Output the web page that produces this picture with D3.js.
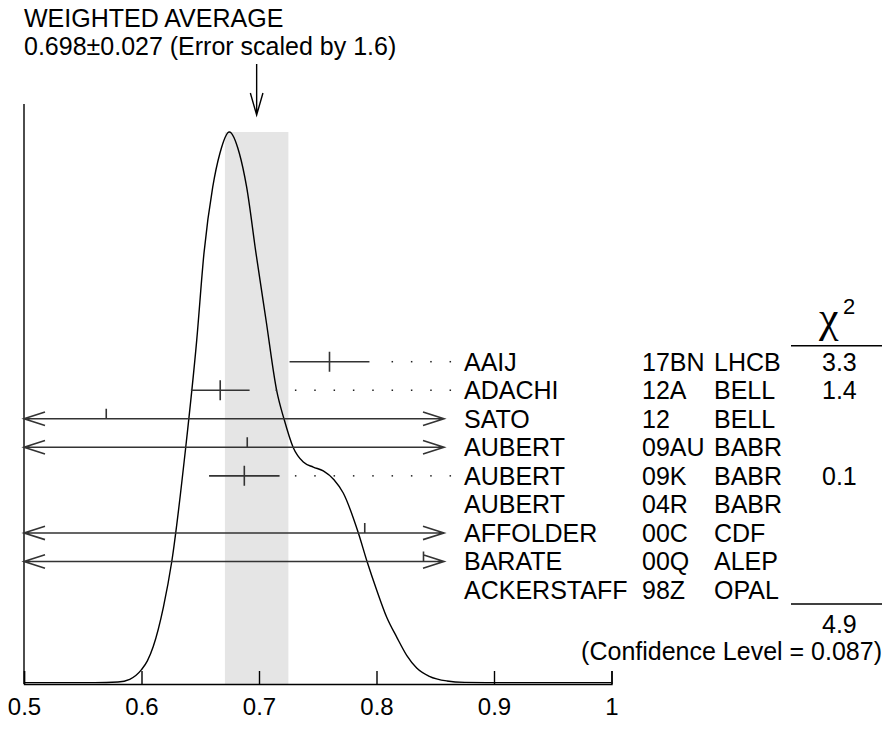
<!DOCTYPE html>
<html>
<head>
<meta charset="utf-8">
<script src="https://cdn.jsdelivr.net/npm/d3@7"></script>
<style>
  body { margin: 0; background: #fff; }
  svg text { font-family: "Liberation Sans", Arial, Helvetica, sans-serif; font-size: 25px; fill: #000; }
</style>
</head>
<body>
<svg id="chart" width="883" height="729"></svg>
<script>
'use strict';

const authors = ["AAIJ", "ADACHI", "SATO", "AUBERT", "AUBERT", "AUBERT", "AFFOLDER", "BARATE", "ACKERSTAFF"];
const refs = ["17BN", "12A", "12", "09AU", "09K", "04R", "00C", "00Q", "98Z"];
const experiments = ["LHCB", "BELL", "BELL", "BABR", "BABR", "BABR", "CDF", "ALEP", "OPAL"];
const values = [0.760, 0.667, 0.570, 0.690, 0.6875, null, 0.790, 0.840, null];
const errors = [0.034, 0.025, 0.30, 0.25, 0.030, null, 0.40, 0.45, null];
const chi2 = ["3.3", "1.4", "", "", "0.1", "", "", "", ""];
const chi2Total = "4.9";
const confidence = "(Confidence Level = 0.087)";

// weighted average
const average = 0.698;
const averageError = 0.027;
const titleLines = ["WEIGHTED AVERAGE", "0.698\u00b10.027 (Error scaled by 1.6)"];

// ideogram curve, relative height (peak = 100)
const curveX = [0.500, 0.560, 0.580, 0.590, 0.600, 0.605, 0.610, 0.6186, 0.6257, 0.6376, 0.6470, 0.6532,
  0.6606, 0.6668, 0.6747, 0.6832, 0.6895, 0.6974, 0.7060, 0.7151, 0.7213, 0.7292, 0.7377, 0.7462,
  0.7547, 0.7638, 0.7717, 0.7845, 0.7921, 0.8002, 0.8087, 0.8172, 0.8257, 0.8342, 0.8450, 0.8600,
  0.8750, 0.9000, 1.000];
const curveY = [0.25, 0.25, 0.35, 0.85, 2.6, 4.2, 6.8, 13.9, 22.1, 42.8, 62.3, 78.1,
  90.0, 96.2, 100, 96.2, 90.0, 78.1, 65.9, 53.1, 48.0, 42.8, 40.2, 39.3,
  38.6, 37.0, 34.6, 27.4, 22.1, 17.0, 12.1, 8.5, 5.2, 2.9, 1.4, 0.55,
  0.3, 0.25, 0.25];

const xTicks = [0.5, 0.6, 0.7, 0.8, 0.9, 1];

const svg = d3.select('#chart');
const axisY = 684;
const arrowEnd = 444;

const x = d3.scaleLinear().domain([0.5, 1]).range([24, 611.5]);
const y = d3.scaleLinear().domain([0, 100]).range([axisY, 132]);
const row = d3.scaleLinear().domain([0, authors.length - 1]).range([361.7, 590]);

// shaded band of the average
svg.append('rect')
  .attr('x', x(average - averageError))
  .attr('y', y(100))
  .attr('width', x(average + averageError) - x(average - averageError))
  .attr('height', axisY - y(100))
  .attr('fill', '#e5e5e5');

// ideogram
const ideogramLine = d3.line()
  .x(d => x(d[0]))
  .y(d => y(d[1]))
  .curve(d3.curveMonotoneX);

svg.append('path')
  .datum(curveX.map((v, i) => [v, curveY[i]]))
  .attr('d', ideogramLine)
  .attr('fill', 'none')
  .attr('stroke', '#000')
  .attr('stroke-width', 1.4);

// axes
const xAxis = d3.axisBottom(x)
  .tickValues(xTicks)
  .tickFormat(d3.format('~g'))
  .tickSize(-13)
  .tickPadding(14);

const axisG = svg.append('g')
  .attr('transform', `translate(0,${axisY})`)
  .call(xAxis);
axisG.selectAll('path, line').attr('stroke', '#000').attr('stroke-width', 1.4);
axisG.selectAll('text')
  .attr('fill', '#000')
  .style('font-family', '"Liberation Sans", Arial, sans-serif')
  .style('font-size', '24px');

svg.append('line')
  .attr('x1', x(0.5)).attr('x2', x(0.5))
  .attr('y1', 104).attr('y2', axisY)
  .attr('stroke', '#000').attr('stroke-width', 1.4);

// title + arrow on the average
svg.selectAll('text.title')
  .data(titleLines)
  .enter()
  .append('text')
  .attr('class', 'title')
  .attr('x', 24)
  .attr('y', (d, i) => 26.5 + i * 28)
  .text(d => d);

const ax = x(average);
svg.append('path')
  .attr('d', `M${ax},64 V115 M${ax - 6.3},93 L${ax},115 L${ax + 6.3},93`)
  .attr('fill', 'none')
  .attr('stroke', '#000')
  .attr('stroke-width', 1.4);

// measurements
const marks = svg.append('g')
  .attr('fill', 'none')
  .attr('stroke', '#333')
  .attr('stroke-width', 1.6);

values.forEach((v, i) => {
  if (v === null) return;
  const cy = row(i);
  const lo = v - errors[i];
  const hi = v + errors[i];
  if (lo < 0.5 || x(hi) > arrowEnd) {
    // off-scale error: two-sided arrow with a small tick at the value
    const x0 = Math.max(x(lo), x(0.5));
    const x1 = Math.min(x(hi), arrowEnd);
    let d = `M${x0},${cy} H${x1} M${x(v)},${cy} v-10`;
    if (x(lo) < x(0.5)) d += ` M${x0 + 21},${cy - 6.7} L${x0},${cy} L${x0 + 21},${cy + 6.7}`;
    if (x(hi) > arrowEnd) d += ` M${x1 - 21},${cy - 6.7} L${x1},${cy} L${x1 - 21},${cy + 6.7}`;
    marks.append('path').attr('d', d);
  } else {
    marks.append('path')
      .attr('d', `M${x(lo)},${cy} H${x(hi)} M${x(v)},${cy - 10} V${cy + 10}`);
    // dotted leader to the label
    const dots = [];
    for (let px = 450.3; px >= x(hi) + 12; px -= 19.33) dots.push(px);
    svg.selectAll(null)
      .data(dots)
      .enter()
      .append('rect')
      .attr('x', d => d - 0.75)
      .attr('y', cy - 0.75)
      .attr('width', 1.5)
      .attr('height', 1.5)
      .attr('fill', '#222');
  }
});

// labels
const labelG = svg.append('g');
authors.forEach((a, i) => {
  const by = row(i) + 9;
  labelG.append('text').attr('x', 464).attr('y', by).text(a);
  labelG.append('text').attr('x', 642).attr('y', by).text(refs[i]);
  labelG.append('text').attr('x', 714).attr('y', by).text(experiments[i]);
  if (chi2[i]) labelG.append('text').attr('x', 822).attr('y', by).text(chi2[i]);
});

// chi2 column header and total
svg.append('text')
  .attr('x', 819)
  .attr('y', 332)
  .style('font-family', '"Liberation Serif", "DejaVu Serif", serif')
  .style('font-size', '44px')
  .text('\u03c7');
svg.append('text')
  .attr('x', 843)
  .attr('y', 314)
  .style('font-size', '22px')
  .text('2');

svg.append('line')
  .attr('x1', 791).attr('x2', 882)
  .attr('y1', 345.7).attr('y2', 345.7)
  .attr('stroke', '#000').attr('stroke-width', 1.4);
svg.append('line')
  .attr('x1', 791).attr('x2', 882)
  .attr('y1', 604).attr('y2', 604)
  .attr('stroke', '#000').attr('stroke-width', 1.4);

svg.append('text').attr('x', 822).attr('y', 633).text(chi2Total);
svg.append('text')
  .attr('x', 882)
  .attr('y', 660)
  .attr('text-anchor', 'end')
  .text(confidence);
</script>
</body>
</html>
